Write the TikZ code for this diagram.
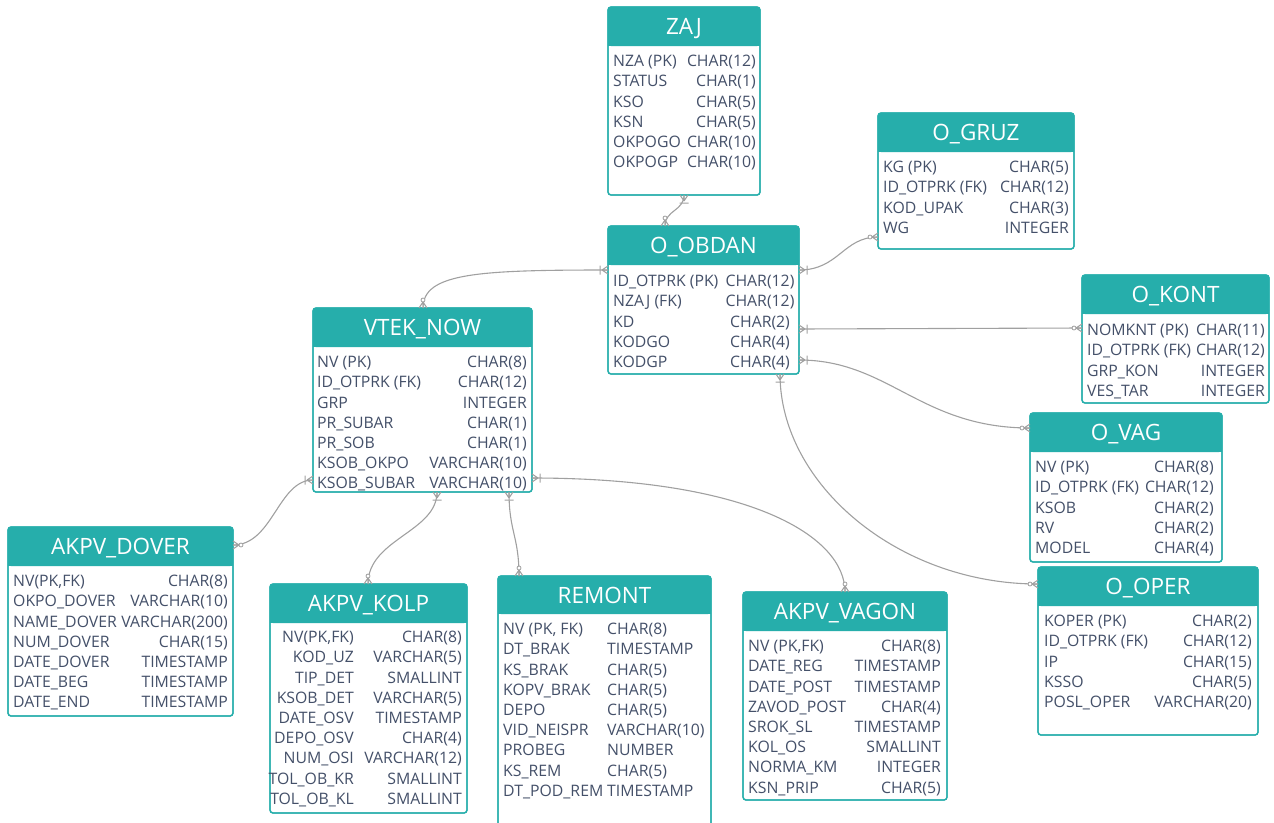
\documentclass[tikz,border=0pt]{standalone}
\usepackage{fontspec}
\setmainfont{Open Sans}
\definecolor{hdr}{HTML}{26AEAB}
\definecolor{bodytxt}{HTML}{445069}
\definecolor{conn}{HTML}{A0A0A0}
\tikzset{
  tblbox/.style={draw=hdr, line width=1.3pt, fill=white, rounded corners=3pt, inner sep=0pt, outer sep=0pt, anchor=north west},
  ttl/.style={text=white, font=\fontsize{22.5}{22.5}\selectfont, inner sep=0pt, text height=16pt, text depth=0pt},
  flist/.style={text=bodytxt, font=\fontsize{15.8}{20.2}\selectfont, inner sep=0pt},
  fleft/.style={flist, align=left, anchor=north west},
  fright/.style={flist, align=right, anchor=north east},
  fcenter/.style={flist, align=center, anchor=north},
  link/.style={draw=conn, line width=1.1pt},
  barfoot/.pic={\draw[conn, line width=1pt] (-6,0) -- (0,4) (-6,0) -- (0,-4) (-6,0) -- (0,0) (-8,-4.5) -- (-8,4.5);},
  circfoot/.pic={\draw[conn, line width=1pt] (-6,0) -- (0,4) (-6,0) -- (0,-4) (-6,0) -- (0,0);
                 \draw[conn, line width=0.8pt, fill=white] (-8,0) circle (2);}
}
% #1 name, #2 x1, #3 y1, #4 x2, #5 y2, #6 header bottom, #7 title
\newcommand\erTable[7]{%
  \node[tblbox, minimum width={(#4-#2)*1pt}, minimum height={(#5-#3)*1pt}] (#1) at (#2,-#3) {};
  \fill[hdr, rounded corners=3pt] (#1.north west) rectangle (#4,-#6);
  \fill[hdr] (#2,-#6+5) rectangle (#4,-#6);
  \draw[hdr, line width=1.3pt, rounded corners=3pt] (#1.north west) rectangle (#1.south east);
  \node[ttl] (#1-title) at ({(#2+#4)/2},{-(#3+#6)/2}) {#7};
}
\newcommand\fr{\rule{0pt}{13pt}}
\begin{document}
\begin{tikzpicture}[x=1pt,y=1pt]
\useasboundingbox (0,0) rectangle (1274,-822);

\erTable{zaj}{608}{7}{760}{195}{46}{ZAJ}
\node[fleft] (zaj-n) at (613,-61+7.5) {\fr NZA (PK)\\STATUS\\KSO\\KSN\\OKPOGO\\OKPOGP};
\node[fright] (zaj-t) at (756,-61+7.5) {\fr CHAR(12)\\CHAR(1)\\CHAR(5)\\CHAR(5)\\CHAR(10)\\CHAR(10)};

\erTable{obdan}{608}{226}{799}{374}{265}{O\_OBDAN}
\node[fleft] (obdan-n) at (613,-281+7.5) {\fr ID\_OTPRK (PK)\\NZAJ (FK)\\KD\\KODGO\\KODGP};
\node[fcenter] (obdan-t) at (760,-281+7.5) {\fr CHAR(12)\\CHAR(12)\\CHAR(2)\\CHAR(4)\\CHAR(4)};

\erTable{gruz}{878}{113}{1074}{249}{152}{O\_GRUZ}
\node[fleft] (gruz-n) at (883,-167+7.5) {\fr KG (PK)\\ID\_OTPRK (FK)\\KOD\_UPAK\\WG};
\node[fright] (gruz-t) at (1069,-167+7.5) {\fr CHAR(5)\\CHAR(12)\\CHAR(3)\\INTEGER};

\erTable{kont}{1082}{275}{1269}{403}{314}{O\_KONT}
\node[fleft] (kont-n) at (1087,-330+7.5) {\fr NOMKNT (PK)\\ID\_OTPRK (FK)\\GRP\_KON\\VES\_TAR};
\node[fright] (kont-t) at (1265,-330+7.5) {\fr CHAR(11)\\CHAR(12)\\INTEGER\\INTEGER};

\erTable{vtek}{313}{308}{532}{492}{347}{VTEK\_NOW}
\node[fleft] (vtek-n) at (317,-362+7.5) {\fr NV (PK)\\ID\_OTPRK (FK)\\GRP\\PR\_SUBAR\\PR\_SOB\\KSOB\_OKPO\\KSOB\_SUBAR};
\node[fright] (vtek-t) at (527,-362+7.5) {\fr CHAR(8)\\CHAR(12)\\INTEGER\\CHAR(1)\\CHAR(1)\\VARCHAR(10)\\VARCHAR(10)};

\erTable{ovag}{1030}{413}{1222}{562}{452}{O\_VAG}
\node[fleft] (ovag-n) at (1035,-467+7.5) {\fr NV (PK)\\ID\_OTPRK (FK)\\KSOB\\RV\\MODEL};
\node[fright] (ovag-t) at (1214,-467+7.5) {\fr CHAR(8)\\CHAR(12)\\CHAR(2)\\CHAR(2)\\CHAR(4)};

\erTable{dover}{8}{527}{233}{716}{566}{AKPV\_DOVER}
\node[fleft] (dover-n) at (13,-581+7.5) {\fr NV(PK,FK)\\OKPO\_DOVER\\NAME\_DOVER\\NUM\_DOVER\\DATE\_DOVER\\DATE\_BEG\\DATE\_END};
\node[fright] (dover-t) at (228,-581+7.5) {\fr CHAR(8)\\VARCHAR(10)\\VARCHAR(200)\\CHAR(15)\\TIMESTAMP\\TIMESTAMP\\TIMESTAMP};

\erTable{kolp}{270}{584}{467}{813}{623}{AKPV\_KOLP}
\node[fright] (kolp-n) at (354,-637+7.5) {\fr NV(PK,FK)\\KOD\_UZ\\TIP\_DET\\KSOB\_DET\\DATE\_OSV\\DEPO\_OSV\\NUM\_OSI\\TOL\_OB\_KR\\TOL\_OB\_KL};
\node[fright] (kolp-t) at (462,-637+7.5) {\fr CHAR(8)\\VARCHAR(5)\\SMALLINT\\VARCHAR(5)\\TIMESTAMP\\CHAR(4)\\VARCHAR(12)\\SMALLINT\\SMALLINT};

\erTable{remont}{498}{576}{711}{840}{614}{REMONT}
\node[fleft] (remont-n) at (503,-629+7.5) {\fr NV (PK, FK)\\DT\_BRAK\\KS\_BRAK\\KOPV\_BRAK\\DEPO\\VID\_NEISPR\\PROBEG\\KS\_REM\\DT\_POD\_REM};
\node[fleft] (remont-t) at (607,-629+7.5) {\fr CHAR(8)\\TIMESTAMP\\CHAR(5)\\CHAR(5)\\CHAR(5)\\VARCHAR(10)\\NUMBER\\CHAR(5)\\TIMESTAMP};

\erTable{vagon}{743}{592}{947}{800}{631}{AKPV\_VAGON}
\node[fleft] (vagon-n) at (748,-646+7.5) {\fr NV (PK,FK)\\DATE\_REG\\DATE\_POST\\ZAVOD\_POST\\SROK\_SL\\KOL\_OS\\NORMA\_KM\\KSN\_PRIP};
\node[fright] (vagon-t) at (941,-646+7.5) {\fr CHAR(8)\\TIMESTAMP\\TIMESTAMP\\CHAR(4)\\TIMESTAMP\\SMALLINT\\INTEGER\\CHAR(5)};

\erTable{oper}{1038}{567}{1258}{735}{606}{O\_OPER}
\node[fleft] (oper-n) at (1044,-621+7.5) {\fr KOPER (PK)\\ID\_OTPRK (FK)\\IP\\KSSO\\POSL\_OPER};
\node[fright] (oper-t) at (1252,-621+7.5) {\fr CHAR(2)\\CHAR(12)\\CHAR(15)\\CHAR(5)\\VARCHAR(20)};

% connectors
\coordinate (c1a) at ([xshift=76pt]zaj.south west);
\coordinate (c1b) at ([xshift=57pt]obdan.north west);
\draw[link] (c1a) .. controls +(0,-16) and +(0,16) .. (c1b);
\pic[rotate=90] at (c1a) {barfoot};
\pic[rotate=-90] at (c1b) {circfoot};

\coordinate (c2a) at ([yshift=-44pt]obdan.north west);
\coordinate (c2b) at ([xshift=110pt]vtek.north west);
\draw[link] (c2a) .. controls +(-130,0) and +(0,35) .. (c2b);
\pic[rotate=0] at (c2a) {barfoot};
\pic[rotate=-90] at (c2b) {circfoot};

\coordinate (c3a) at ([yshift=-44pt]obdan.north east);
\coordinate (c3b) at ([yshift=-124pt]gruz.north west);
\draw[link] (c3a) .. controls +(40,0) and +(-35,0) .. (c3b);
\pic[rotate=180] at (c3a) {barfoot};
\pic[rotate=0] at (c3b) {circfoot};

\coordinate (c4a) at ([yshift=-103pt]obdan.north east);
\coordinate (c4b) at ([yshift=-53pt]kont.north west);
\draw[link] (c4a) -- (c4b);
\pic[rotate=180] at (c4a) {barfoot};
\pic[rotate=0] at (c4b) {circfoot};

\coordinate (c5a) at ([yshift=-134pt]obdan.north east);
\coordinate (c5b) at ([yshift=-15pt]ovag.north west);
\draw[link] (c5a) .. controls +(90,0) and +(-110,0) .. (c5b);
\pic[rotate=180] at (c5a) {barfoot};
\pic[rotate=0] at (c5b) {circfoot};

\coordinate (c6a) at ([xshift=172pt]obdan.south west);
\coordinate (c6b) at ([yshift=-17pt]oper.north west);
\draw[link] (c6a) .. controls +(0,-110) and +(-140,0) .. (c6b);
\pic[rotate=90] at (c6a) {barfoot};
\pic[rotate=0] at (c6b) {circfoot};

\coordinate (c7a) at ([yshift=-172pt]vtek.north west);
\coordinate (c7b) at ([yshift=-18pt]dover.north east);
\draw[link] (c7a) .. controls +(-35,0) and +(40,0) .. (c7b);
\pic[rotate=0] at (c7a) {barfoot};
\pic[rotate=180] at (c7b) {circfoot};

\coordinate (c8a) at ([xshift=124pt]vtek.south west);
\coordinate (c8b) at ([xshift=98pt]kolp.north west);
\draw[link] (c8a) .. controls +(0,-40) and +(0,45) .. (c8b);
\pic[rotate=90] at (c8a) {barfoot};
\pic[rotate=-90] at (c8b) {circfoot};

\coordinate (c9a) at ([xshift=196pt]vtek.south west);
\coordinate (c9b) at ([xshift=21pt]remont.north west);
\draw[link] (c9a) .. controls +(0,-40) and +(0,40) .. (c9b);
\pic[rotate=90] at (c9a) {barfoot};
\pic[rotate=-90] at (c9b) {circfoot};

\coordinate (c10a) at ([yshift=-170pt]vtek.north east);
\coordinate (c10b) at ([xshift=102pt]vagon.north west);
\draw[link] (c10a) .. controls +(220,0) and +(0,55) .. (c10b);
\pic[rotate=180] at (c10a) {barfoot};
\pic[rotate=-90] at (c10b) {circfoot};
\end{tikzpicture}
\end{document}
